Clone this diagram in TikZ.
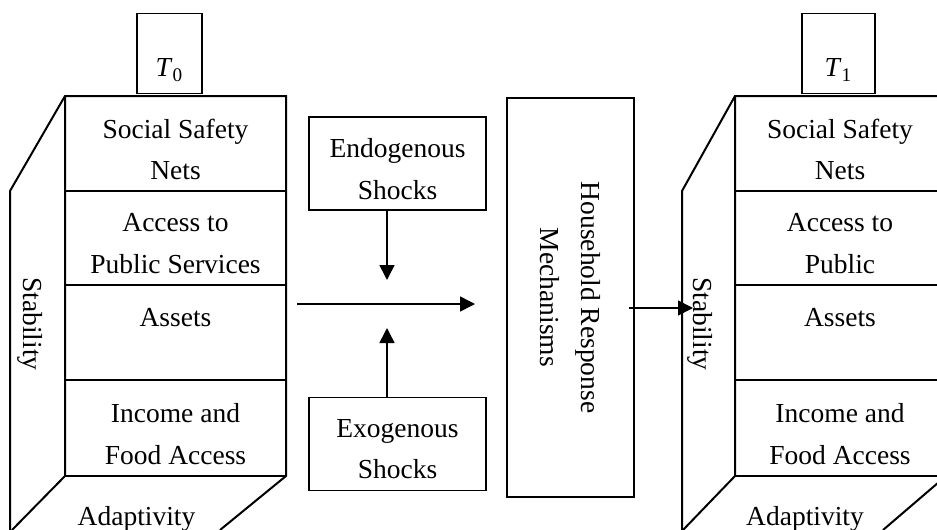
\documentclass[tikz,border=0pt]{standalone}
\usepackage{fontspec}
\setmainfont{Liberation Serif}
\usetikzlibrary{arrows.meta,positioning}

\tikzset{
    every node/.append style = {font = \fontsize{13.75}{20.75}\selectfont},
    face/.style = {line width = 1pt},
    cell/.style = {anchor = north, align = center, inner sep = 0pt},
    side/.style = {rotate = -90, inner sep = 0pt},
    tbox/.style = {draw, line width = 0.75pt, inner sep = 0pt, anchor = north,
                   minimum width = 32.5pt, text height = 31.75pt, text depth = 8.25pt},
    shockbox/.style = {draw, line width = 0.75pt, align = center,
                       minimum width = 88.5pt, minimum height = 46.5pt},
    flow/.style = {line width = 0.8pt, -{Triangle[length = 7.5pt, width = 7.5pt]}}
}

\begin{document}
\begin{tikzpicture}[x = 0.5pt, y = -0.5pt]

\useasboundingbox (0,0) rectangle (937,530);
\clip (0,0) rectangle (937,530);

% state at T0
\draw[face] (10,530) -- (10,191) -- (65,96) -- (286,96) -- (286,476) -- (220,530);
\draw[face] (65,96) -- (65,476) -- (12,530);
\draw[face] (65,191) -- (286,191) (65,285) -- (286,285)
            (65,380) -- (286,380) (65,476) -- (286,476);

\node[tbox] (t0) at (169.5,12.5) {\textit{T}\textsubscript{0}};
\node[cell] (ssn0) at (175.5,118.3) {Social Safety\\Nets};
\node[cell] (aps0) at (175.5,213.4) {Access to\\Public Services};
\node[cell] (ast0) at (175.5,308.4) {Assets};
\node[cell] (ifa0) at (175.5,403.2) {Income and\\Food Access};
\node[side] (stab0) at (30,324) {Stability};
\node[anchor = base] (adap0) at (136.5,525) {Adaptivity};

% shocks and response
\node[shockbox] (endo) at (397.5,163.5) {\rule{0pt}{15pt}Endogenous\\Shocks};
\node[shockbox] (exo) at (397.5,444) {\rule{0pt}{14pt}Exogenous\\Shocks};
\node[draw, line width = 0.75pt, rotate = -90, align = center,
      minimum width = 199.5pt, minimum height = 63.5pt]
      (hrm) at (570.5,297.5) {Household Response\\Mechanisms};

\coordinate (midin) at (297,304);
\coordinate (midout) at (475,304);
\coordinate (meet1) at (387,280);
\coordinate (meet2) at (387,328);
\coordinate (hrmto) at (693,308);

\draw[flow] (endo.south -| meet1) -- (meet1);
\draw[flow] (exo.north -| meet2) -- (meet2);
\draw[flow] (midin) -- (midout);
\draw[flow] ([xshift = -3pt]hrm.north |- hrmto) -- (hrmto);

% state at T1
\draw[face] (682,530) -- (682,191) -- (735,96) -- (946,96) -- (946,476) -- (883,530);
\draw[face] (735,96) -- (735,476) -- (683,530);
\draw[face] (735,191) -- (946,191) (735,285) -- (946,285)
            (735,380) -- (946,380) (735,476) -- (946,476);

\node[tbox, minimum width = 36.5pt] (t1) at (838.5,12.5) {\textit{T}\textsubscript{1}};
\node[cell] (ssn1) at (840,118.3) {Social Safety\\Nets};
\node[cell] (aps1) at (840,213.4) {Access to\\Public};
\node[cell] (ast1) at (840,308.4) {Assets};
\node[cell] (ifa1) at (840,403.2) {Income and\\Food Access};
\node[side] (stab1) at (700,324) {Stability};
\node[anchor = base] (adap1) at (805,525) {Adaptivity};

\end{tikzpicture}
\end{document}
